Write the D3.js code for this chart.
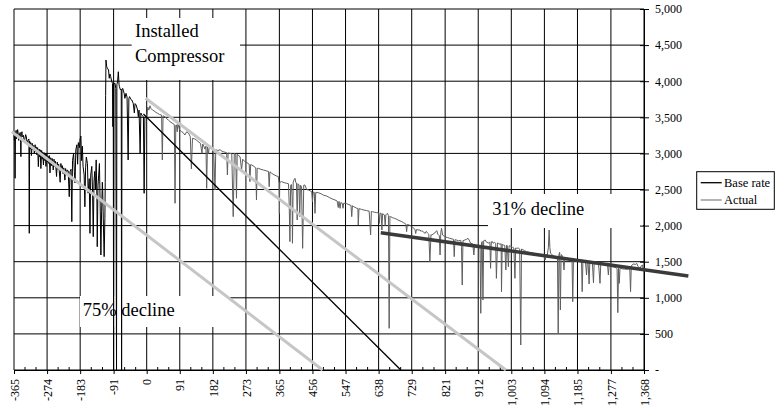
<!DOCTYPE html>
<html><head><meta charset="utf-8">
<script src="https://cdn.jsdelivr.net/npm/d3@7"></script>
<style>
body{margin:0;background:#fff;}
svg{display:block;}
svg text{font-family:'Liberation Serif','DejaVu Serif',serif;fill:#000;}
</style>
</head><body>
<svg id="chart" width="776" height="408"></svg>
<script>
// ---------- DATA ----------
const xTickValues = [-365,-274,-183,-91,0,91,182,273,365,456,547,638,729,821,912,1003,1094,1185,1277,1368];
const xTickLabels = ["-365","-274","-183","-91","0","91","182","273","365","456","547","638","729","821","912","1,003","1,094","1,185","1,277","1,368"];
const yTickValues = [0,500,1000,1500,2000,2500,3000,3500,4000,4500,5000];
const yTickLabels = ["-","500","1,000","1,500","2,000","2,500","3,000","3,500","4,000","4,500","5,000"];
const seriesNames = ["Base rate","Actual"];

// Base rate (black) : [day, value]
const baseRate = [
[-365,3300],[-364,3180],[-363,3260],[-362,2655],[-361,3280],[-359,3320],[-358,3200],[-357,3250],[-355,3330],[-354,3300],[-352,3180],[-351,3240],[-348,3290],[-347,3150],[-346,2955],[-345,3270],[-343,3300],[-342,3230],[-339,3250],[-337,3160],[-335,3200],[-333,3260],[-331,3230],[-329,3140],[-327,3180],[-324,3200],[-323,1893],[-322,3170],[-320,3060],[-319,3150],[-317,2970],[-315,3140],[-313,3050],[-311,3110],[-309,3000],[-307,3120],[-305,3020],[-304,3090],[-302,2980],[-300,3080],[-298,2816],[-296,3060],[-294,2950],[-293,3050],[-291,2790],[-289,3040],[-287,2920],[-286,3020],[-284,2840],[-282,3010],[-280,2900],[-279,3000],[-277,2820],[-275,2990],[-273,2880],[-271,2960],[-269,2860],[-268,2970],[-266,2730],[-264,2940],[-262,2830],[-260,2930],[-257,2770],[-255,2920],[-253,2820],[-251,2890],[-248,2680],[-246,2880],[-244,2780],[-242,2850],[-238,2600],[-236,2860],[-234,2760],[-232,2830],[-230,2720],[-228,2800],[-225,2630],[-223,2790],[-221,2700],[-219,2770],[-216,2760],[-213,2400],[-211,2750],[-208,2780],[-206,2054],[-204,2900],[-201,3000],[-199,2750],[-197,2590],[-195,3050],[-192,3120],[-190,2850],[-188,3150],[-185,3080],[-183,3200],[-181,3240],[-179,2900],[-177,3100],[-175,2820],[-172,2700],[-170,2260],[-168,2800],[-166,2950],[-163,2860],[-161,2450],[-158,2650],[-156,1893],[-154,2700],[-151,2820],[-149,2500],[-147,1847],[-145,2600],[-143,2750],[-141,2500],[-139,2910],[-137,2400],[-136,1708],[-134,2550],[-132,2700],[-130,2860],[-128,2300],[-126,1593],[-124,2200],[-122,2600],[-121,2490],[-119,2000],[-117,1570],[-115,2100],[-114,2600],[-113,3800],[-112,4293],[-111,4250],[-110,4201],[-108,4180],[-105,4155],[-103,4040],[-101,4100],[-99,4063],[-96,3993],[-94,3970],[-93,3370],[-92,3960],[-91,0],[-90,3970],[-87,3970],[-85,3900],[-83,0],[-82,3950],[-80,4000],[-78,4131],[-76,3950],[-75,3924],[-72,3878],[-70,3890],[-69,0],[-68,3880],[-66,3901],[-62,3832],[-60,3763],[-57,3832],[-54,3780],[-51,2909],[-49,3760],[-47,3786],[-44,3750],[-41,3740],[-37,3693],[-34,3560],[-32,3690],[-29,3670],[-25,3601],[-23,3509],[-21,3600],[-18,3001],[-16,3560],[-14,3532],[-9,3509],[-7,2447],[-5,3500],[-3,3509],[0,3486]
];

// Actual (gray) : [day, value]
const actual = [
[0,3486],[3,3640],[6,3600],[9,3660],[12,3620],[16,3600],[20,3590],[25,3570],[30,3555],[35,3540],[41,3530],[43,2909],[45,3520],[50,3509],[55,3480],[60,3460],[64,3440],[70,3420],[76,3400],[78,2309],[80,3390],[82,3393],[84,3300],[86,3420],[90,3330],[96,3301],[100,3290],[105,3255],[110,3300],[115,3280],[120,3230],[123,2786],[126,3210],[132,3200],[137,3186],[142,3160],[148,3140],[152,3000],[154,3130],[156,3116],[160,3060],[163,3100],[165,2516],[167,3090],[170,3000],[172,3080],[179,3070],[184,3060],[188,2493],[190,3050],[196,3040],[202,3050],[207,3030],[211,3024],[216,3015],[220,3010],[222,2701],[224,3005],[229,3001],[234,2995],[238,2124],[241,3000],[245,2990],[247,2378],[249,2985],[252,2978],[257,2950],[261,2770],[264,2920],[270,2886],[276,2870],[282,2850],[284,2609],[286,2845],[289,2840],[295,2820],[300,2800],[302,2355],[304,2795],[307,2793],[314,2780],[321,2770],[328,2760],[335,2750],[337,2539],[339,2745],[344,2724],[350,2705],[357,2687],[362,2680],[364,2586],[365,2170],[366,2600],[371,2609],[378,2595],[385,2586],[390,2580],[392,2300],[394,1778],[396,2560],[398,2570],[400,2400],[401,1755],[403,2600],[406,2640],[408,2655],[410,2600],[412,2590],[414,2078],[416,2580],[419,2563],[421,2124],[423,2560],[426,2540],[429,1685],[432,2560],[435,2563],[440,2500],[445,2493],[450,2480],[454,2470],[456,2332],[458,2465],[461,2460],[463,2170],[465,2458],[472,2456],[480,2440],[487,2420],[495,2410],[502,2390],[510,2370],[518,2355],[524,2340],[527,2250],[529,2335],[532,2239],[534,2320],[538,2310],[540,2240],[542,2310],[546,2308],[550,2305],[556,2290],[562,2280],[564,2124],[566,2275],[570,2260],[573,2253],[578,2240],[581,2239],[582,2008],[584,2235],[587,2230],[591,2225],[598,2215],[605,2207],[612,2200],[616,1870],[618,2195],[621,2193],[627,2185],[633,2179],[638,2175],[640,2031],[642,2172],[645,2170],[647,1939],[649,2165],[654,2147],[656,2000],[658,2150],[662,2170],[665,2140],[667,577],[669,2130],[671,2124],[676,2110],[682,2100],[688,2087],[694,2070],[700,2060],[706,2041],[710,2030],[713,2020],[715,1916],[717,2015],[722,2008],[728,1990],[733,1970],[738,1948],[740,1890],[742,1945],[747,1940],[752,1939],[755,1920],[757,1930],[761,1910],[766,1893],[769,1920],[772,1900],[776,1880],[779,1500],[782,1875],[784,1870],[790,1890],[796,1916],[798,1930],[801,1880],[805,1860],[807,1593],[809,1900],[811,1962],[814,1870],[820,1847],[827,1835],[834,1824],[840,1815],[844,1810],[846,1570],[848,1805],[852,1800],[858,1790],[864,1795],[866,1700],[868,1177],[870,1790],[875,1800],[880,1810],[884,1824],[887,1800],[891,1755],[896,1750],[898,1700],[900,1593],[902,1740],[907,1717],[912,1720],[917,1708],[919,785],[921,1760],[923,1780],[925,969],[927,1790],[931,1800],[935,1770],[940,1760],[944,1770],[946,1408],[948,1777],[951,1778],[953,1755],[957,1770],[960,1750],[962,1269],[965,1760],[967,1755],[972,1740],[975,1750],[976,1085],[978,1740],[981,1731],[985,1725],[988,1385],[990,1730],[992,1720],[995,1431],[997,1720],[1001,1717],[1006,1700],[1010,1690],[1013,1270],[1015,1690],[1018,1685],[1022,1690],[1026,1675],[1029,346],[1031,1675],[1033,1671],[1039,1655],[1045,1639],[1052,1630],[1058,1625],[1064,1616],[1070,1605],[1076,1600],[1082,1593],[1088,1585],[1093,1580],[1096,1524],[1099,1590],[1102,1593],[1105,1700],[1107,1939],[1109,1700],[1111,1616],[1117,1590],[1123,1570],[1128,1560],[1130,1550],[1132,508],[1134,1600],[1136,1630],[1138,831],[1140,1600],[1142,1593],[1145,1560],[1148,1385],[1150,1560],[1155,1547],[1160,1545],[1166,1540],[1170,1530],[1172,946],[1174,1535],[1176,1533],[1181,1528],[1187,1524],[1192,1520],[1196,1515],[1198,1085],[1200,1510],[1203,1505],[1207,1500],[1210,1316],[1212,1505],[1214,1510],[1217,1191],[1219,1500],[1222,1500],[1226,1490],[1229,1209],[1231,1490],[1233,1486],[1238,1480],[1243,1475],[1247,1200],[1249,1470],[1252,1468],[1258,1460],[1265,1454],[1268,1440],[1270,1316],[1272,1445],[1275,1440],[1281,1430],[1288,1422],[1292,1415],[1294,1400],[1296,794],[1298,1410],[1300,1200],[1302,1408],[1304,1408],[1310,1400],[1315,1398],[1320,1394],[1326,1400],[1329,1390],[1331,1085],[1333,1440],[1335,1454],[1340,1470],[1344,1460],[1348,1477],[1352,1430],[1357,1408],[1360,1440],[1364,1454],[1366,1385],[1368,1420]
];

// straight reference lines : [[day, value], [day, value]]
const decline75a = [[-371,3300],[484,0]];
const baseTrend  = [[-9,3545],[699,0]];
const decline75b = [[-3,3763],[988,0]];
const decline31  = [[644,1902],[1490,1302]];

// ---------- CHART ----------
const FONT = "'Liberation Serif','DejaVu Serif',serif";
const svg = d3.select("#chart");
const L = 14, R = 644, T = 9, B = 370;
const x = d3.scaleLinear().domain([-365, 1368]).range([L, R]);
const y = d3.scaleLinear().domain([0, 5000]).range([B, T]);

svg.append("rect").attr("width",776).attr("height",408).attr("fill","#fff");

// gridlines
const grid = svg.append("g").attr("stroke","#000").attr("stroke-width",1);
grid.selectAll("line.v").data(xTickValues).join("line")
  .attr("x1", d=>x(d)).attr("x2", d=>x(d)).attr("y1", T).attr("y2", B);
grid.selectAll("line.h").data(yTickValues).join("line")
  .attr("x1", L).attr("x2", R).attr("y1", d=>y(d)).attr("y2", d=>y(d));

// white label boxes (hide gridlines)
const boxes = [[131.7,18,108.3,62],[80,296,148,31],[488,194,155,34]];
svg.selectAll("rect.box").data(boxes).join("rect")
  .attr("x", d=>d[0]).attr("y", d=>d[1]).attr("width", d=>d[2]).attr("height", d=>d[3])
  .attr("fill","#fff");

// axes
const xAxis = d3.axisBottom(x).tickValues(xTickValues)
  .tickFormat((d,i)=>xTickLabels[i]).tickSize(4).tickSizeOuter(0);
const gx = svg.append("g").attr("transform",`translate(0,${B})`).call(xAxis)
  .attr("font-family", FONT).attr("font-size", 12);
gx.select(".domain").attr("stroke","#000");
gx.selectAll(".tick line").attr("stroke","#000");
gx.selectAll(".tick text")
  .attr("transform","rotate(-90)")
  .attr("x",-9).attr("y",0).attr("dy","0.35em")
  .attr("text-anchor","end");

// minor x ticks (thirds between majors)
const minor = [];
for (let i = 0; i < xTickValues.length - 1; i++) {
  const a = xTickValues[i], b = xTickValues[i+1];
  minor.push(a + (b-a)/3, a + 2*(b-a)/3);
}
svg.append("g").attr("stroke","#000").selectAll("line").data(minor).join("line")
  .attr("x1", d=>x(d)).attr("x2", d=>x(d)).attr("y1", B-3).attr("y2", B);

const yAxis = d3.axisRight(y).tickValues(yTickValues)
  .tickFormat((d,i)=>yTickLabels[i]).tickSize(5).tickPadding(6).tickSizeOuter(0);
const gy = svg.append("g").attr("transform",`translate(${R},0)`).call(yAxis)
  .attr("font-family", FONT).attr("font-size", 12);
gy.select(".domain").attr("stroke","#000");
gy.selectAll(".tick line").attr("stroke","#000").attr("x1",-4);

// data series
const line = d3.line().x(d=>x(d[0])).y(d=>y(d[1]));
svg.append("path").datum(baseRate).attr("d", line)
  .attr("fill","none").attr("stroke","#000").attr("stroke-width",1);
svg.append("path").datum(actual).attr("d", line)
  .attr("fill","none").attr("stroke","#5e5e5e").attr("stroke-width",1);

// reference lines
svg.append("path").datum(decline75a).attr("d", line)
  .attr("fill","none").attr("stroke","#c6c6c6").attr("stroke-width",3);
svg.append("path").datum(decline75b).attr("d", line)
  .attr("fill","none").attr("stroke","#c6c6c6").attr("stroke-width",3);
svg.append("path").datum(baseTrend).attr("d", line)
  .attr("fill","none").attr("stroke","#000").attr("stroke-width",1.3);
svg.append("path").datum(decline31).attr("d", line)
  .attr("fill","none").attr("stroke","#3a3a3a").attr("stroke-width",3.5);

// annotations
const annot = svg.append("g").attr("font-family", FONT).attr("font-size", 18.5);
annot.append("text").attr("x",135).attr("y",36.7).text("Installed");
annot.append("text").attr("x",135).attr("y",61.7).text("Compressor");
annot.append("text").attr("x",82.7).attr("y",316).text("75% decline");
annot.append("text").attr("x",492.3).attr("y",215).text("31% decline");

// legend
const lg = svg.append("g").attr("font-family", FONT).attr("font-size", 12.5);
lg.append("rect").attr("x",696.7).attr("y",171.7).attr("width",77.6).attr("height",37.6)
  .attr("fill","#fff").attr("stroke","#000").attr("stroke-width",1);
const legColors = ["#000","#8a8a8a"];
const legY = [182.7, 200];
seriesNames.forEach((n,i)=>{
  lg.append("line").attr("x1",700.7).attr("x2",721.7).attr("y1",legY[i]).attr("y2",legY[i])
    .attr("stroke",legColors[i]).attr("stroke-width",1.3);
  lg.append("text").attr("x",724).attr("y",legY[i]).attr("dy","0.35em").text(n);
});
</script>
</body></html>
